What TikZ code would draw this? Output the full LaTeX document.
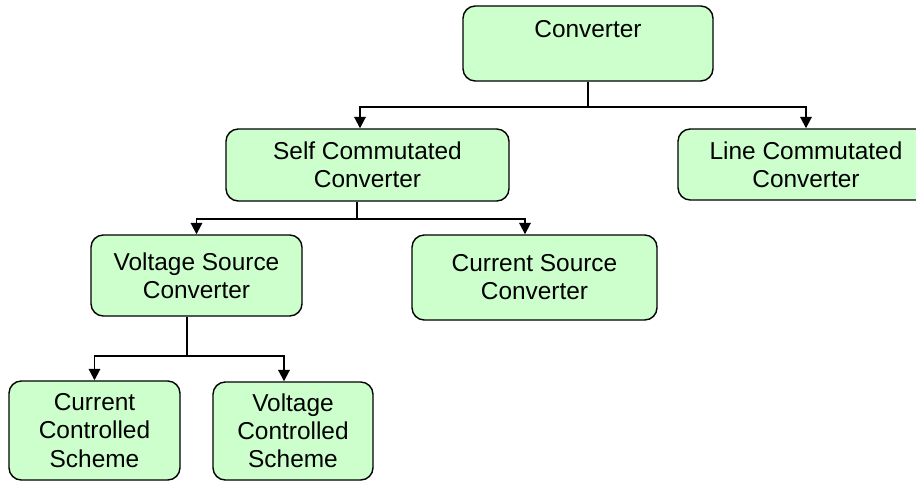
\documentclass[tikz,border=0pt]{standalone}
\usepackage{fontspec}
\setmainfont{Liberation Sans}
\usepackage{tikz}
\usetikzlibrary{arrows.meta,positioning}

\definecolor{boxgreen}{HTML}{CCFFCC}

\begin{document}
\begin{tikzpicture}[
    block/.style={draw, fill=boxgreen, rounded corners=7pt, align=center, line width=0.8pt, inner sep=0pt, font=\fontsize{13.9}{16}\selectfont},
    link/.style={-{Triangle[length=6.5pt,width=6.5pt]}, line width=1.1pt}
  ]
    \useasboundingbox (0,0) rectangle (18.32,-9.64);

    \node[block, minimum width=5.0cm, minimum height=1.5cm] (conv) at (11.76,-0.87) {Converter\\\mbox{}};
    \node[block, minimum width=5.66cm, minimum height=1.44cm] (self) at (7.35,-3.30) {Self Commutated\\Converter};
    \node[block, minimum width=5.12cm, minimum height=1.42cm] (line) at (16.12,-3.29) {Line Commutated\\Converter};
    \node[block, minimum width=4.22cm, minimum height=1.62cm] (vsc) at (3.93,-5.51) {Voltage Source\\Converter};
    \node[block, minimum width=4.9cm, minimum height=1.7cm] (csc) at (10.69,-5.55) {Current Source\\Converter};
    \node[block, minimum width=3.42cm, minimum height=1.98cm] (ccs) at (1.89,-8.61) {Current\\Controlled\\Scheme};
    \node[block, minimum width=3.2cm, minimum height=1.96cm] (vcs) at (5.86,-8.62) {Voltage\\Controlled\\Scheme};

    % tree connectors
    \draw[link] (conv.south) -- ++(0,-0.5) -| ([xshift=-0.15cm]self.north);
    \draw[link] (conv.south) -- ++(0,-0.5) -| (line.north);
    \draw[link] ([xshift=-0.21cm]self.south) -- ++(0,-0.34) -| (vsc.north);
    \draw[link] ([xshift=-0.21cm]self.south) -- ++(0,-0.34) -| ([xshift=-0.19cm]csc.north);
    \draw[link] ([xshift=-0.19cm]vsc.south) -- ++(0,-0.78) -| (ccs.north);
    \draw[link] ([xshift=-0.19cm]vsc.south) -- ++(0,-0.78) -| ([xshift=-0.18cm]vcs.north);
  \end{tikzpicture}
\end{document}
